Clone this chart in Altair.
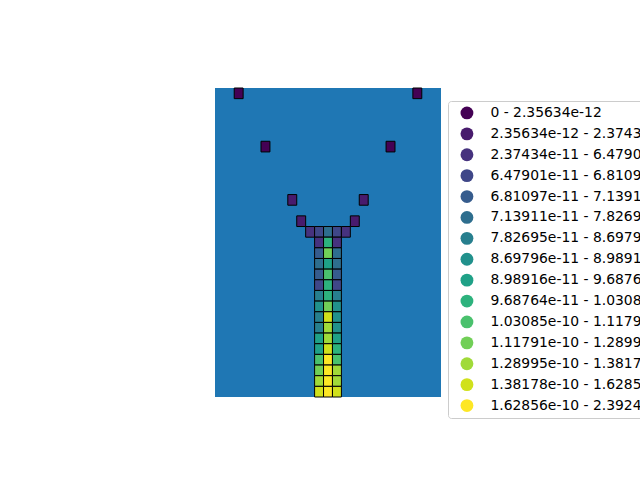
import altair as alt
import pandas as pd

# grid cells: column index, row index, class index
cols = [-10, 10, -7, 7, -4, 4, -3, 3,
        -2, -1, 0, 1, 2,
        -1, 0, 1,  -1, 0, 1,  -1, 0, 1,  -1, 0, 1,  -1, 0, 1,
        -1, 0, 1,  -1, 0, 1,  -1, 0, 1,  -1, 0, 1,  -1, 0, 1,
        -1, 0, 1,  -1, 0, 1,  -1, 0, 1,  -1, 0, 1,  -1, 0, 1]
rows = [-13, -13, -8, -8, -3, -3, -1, -1,
        0, 0, 0, 0, 0,
        1, 1, 1,  2, 2, 2,  3, 3, 3,  4, 4, 4,  5, 5, 5,
        6, 6, 6,  7, 7, 7,  8, 8, 8,  9, 9, 9,  10, 10, 10,
        11, 11, 11,  12, 12, 12,  13, 13, 13,  14, 14, 14,  15, 15, 15]
classes = [0, 0, 0, 0, 1, 1, 1, 1,
           2, 3, 5, 3, 2,
           2, 9, 2,  4, 11, 5,  5, 8, 5,  4, 10, 4,  3, 9, 3,
           6, 9, 6,  7, 11, 7,  6, 13, 7,  6, 12, 7,  8, 12, 8,
           8, 13, 9,  10, 14, 10,  11, 14, 12,  12, 14, 12,  13, 14, 13]

labels = [
    "0 - 2.35634e-12",
    "2.35634e-12 - 2.37434e-11",
    "2.37434e-11 - 6.47901e-11",
    "6.47901e-11 - 6.81097e-11",
    "6.81097e-11 - 7.13911e-11",
    "7.13911e-11 - 7.82695e-11",
    "7.82695e-11 - 8.69796e-11",
    "8.69796e-11 - 8.98916e-11",
    "8.98916e-11 - 9.68764e-11",
    "9.68764e-11 - 1.03085e-10",
    "1.03085e-10 - 1.11791e-10",
    "1.11791e-10 - 1.28995e-10",
    "1.28995e-10 - 1.38178e-10",
    "1.38178e-10 - 1.62856e-10",
    "1.62856e-10 - 2.39245e-10",
]

viridis = ["#440154", "#481b6d", "#46327e", "#3f4788", "#365c8d",
           "#2e6e8e", "#277f8e", "#21918c", "#1fa187", "#2db27d",
           "#4ac16d", "#71cf57", "#a0da39", "#d0e11c", "#fde725"]

df = pd.DataFrame({"col": cols, "row": rows,
                   "label": [labels[c] for c in classes]})

chart = alt.Chart(df).transform_calculate(
    x1="datum.col - 0.5", x2="datum.col + 0.5",
    y1="datum.row - 0.5", y2="datum.row + 0.5",
).mark_rect(stroke="black", strokeWidth=1, opacity=1).encode(
    x=alt.X("x1:Q", scale=alt.Scale(domain=[-12.65, 12.65], nice=False, zero=False), axis=None),
    x2="x2:Q",
    y=alt.Y("y1:Q", scale=alt.Scale(domain=[-13.5, 15.5], nice=False, zero=False, reverse=True), axis=None),
    y2="y2:Q",
    color=alt.Color("label:N", scale=alt.Scale(domain=labels, range=viridis),
                    legend=alt.Legend(
                        title=None, orient="none", legendX=233, legendY=13,
                        symbolType="circle", symbolSize=165, symbolStrokeWidth=0,
                        symbolOpacity=1, symbolOffset=7,
                        labelFont="DejaVu Sans", labelFontSize=13.9, labelColor="black",
                        labelOffset=16.5, labelLimit=400, rowPadding=5.9,
                        padding=5, strokeColor="#cccccc", fillColor="white",
                        cornerRadius=3,
                    )),
).properties(
    width=226, height=309,
    autosize=alt.AutoSizeParams(type="none"),
    padding={"left": 215, "top": 88, "right": 199, "bottom": 83},
).configure_view(fill="#1f77b4", stroke=None)

chart.save("out.html", embed_options={"renderer": "svg", "actions": False})
